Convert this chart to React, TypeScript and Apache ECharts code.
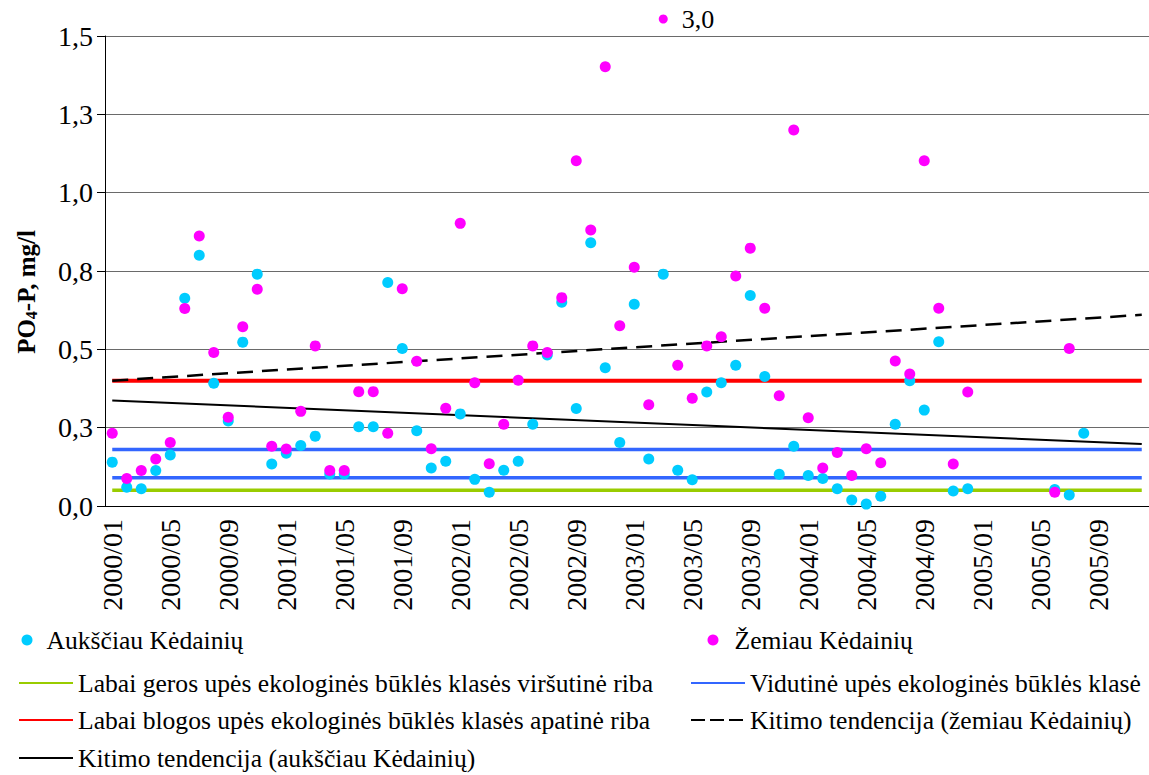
import React, { useEffect, useRef } from "react";
import * as echarts from "echarts";

const categories = [
  "2000/01","2000/02","2000/03","2000/04","2000/05","2000/06","2000/07","2000/08","2000/09","2000/10","2000/11","2000/12",
  "2001/01","2001/02","2001/03","2001/04","2001/05","2001/06","2001/07","2001/08","2001/09","2001/10","2001/11","2001/12",
  "2002/01","2002/02","2002/03","2002/04","2002/05","2002/06","2002/07","2002/08","2002/09","2002/10","2002/11","2002/12",
  "2003/01","2003/02","2003/03","2003/04","2003/05","2003/06","2003/07","2003/08","2003/09","2003/10","2003/11","2003/12",
  "2004/01","2004/02","2004/03","2004/04","2004/05","2004/06","2004/07","2004/08","2004/09","2004/10","2004/11","2004/12",
  "2005/01","2005/02","2005/03","2005/04","2005/05","2005/06","2005/07","2005/08","2005/09","2005/10","2005/11","2005/12",
];

// Aukščiau Kėdainių (upstream)
const above: (number | null)[] = [
  0.14, 0.06, 0.055, 0.113, 0.163, 0.663, 0.80, 0.392, 0.271, 0.523, 0.74, 0.134,
  0.168, 0.193, 0.223, 0.102, 0.102, 0.253, 0.253, 0.713, 0.503, 0.24, 0.121, 0.143,
  0.294, 0.085, 0.044, 0.114, 0.143, 0.261, 0.482, 0.65, 0.311, 0.84, 0.441, 0.203,
  0.644, 0.15, 0.74, 0.114, 0.084, 0.364, 0.393, 0.449, 0.672, 0.413, 0.101, 0.191,
  0.097, 0.088, 0.055, 0.019, 0.006, 0.031, 0.261, 0.40, 0.306, 0.524, 0.048, 0.055,
  null, null, null, null, null, 0.053, 0.035, 0.232, null, null, null, null,
];

// Žemiau Kėdainių (downstream)
const below: (number | null)[] = [
  0.232, 0.088, 0.113, 0.15, 0.203, 0.63, 0.862, 0.49, 0.283, 0.572, 0.692, 0.191,
  0.182, 0.302, 0.511, 0.113, 0.113, 0.365, 0.365, 0.232, 0.693, 0.462, 0.183, 0.312,
  0.902, 0.393, 0.135, 0.261, 0.401, 0.511, 0.49, 0.665, 1.102, 0.881, 1.402, 0.575,
  0.762, 0.323, 3.0, 0.449, 0.344, 0.511, 0.54, 0.734, 0.823, 0.631, 0.352, 1.20,
  0.282, 0.121, 0.171, 0.097, 0.183, 0.138, 0.463, 0.421, 1.102, 0.631, 0.134, 0.364,
  null, null, null, null, null, 0.044, 0.503, null, null, null, null, null,
];

const limitVeryGood = 0.05;
const limitModerate = [0.09, 0.18];
const limitVeryBad = 0.40;
const trendBelow = [0.40, 0.61]; // first & last category
const trendAbove = [0.337, 0.198];

const yTickLabels = ["0,0", "0,3", "0,5", "0,8", "1,0", "1,3", "1,5"];
const Y_MAX = 1.5;
const Y_STEP = 0.25;

const NAMES = {
  above: "Aukščiau Kėdainių",
  below: "Žemiau Kėdainių",
  good: "Labai geros upės ekologinės būklės klasės viršutinė riba",
  moderate: "Vidutinė upės ekologinės būklės klasė",
  bad: "Labai blogos upės ekologinės būklės klasės apatinė riba",
  trendBelow: "Kitimo tendencija (žemiau Kėdainių)",
  trendAbove: "Kitimo tendencija (aukščiau Kėdainių)",
};

const FONT = "Liberation Serif";

export default function App() {
  const ref = useRef<HTMLDivElement>(null);
  useEffect(() => {
    if (!ref.current) return;
    const chart = echarts.init(ref.current, null, { renderer: "svg" });
    const last = categories.length - 1;
    const hline = (v: number) => [[0, v], [last, v]];
    const belowMain = below.map((v) => (v != null && v > Y_MAX ? null : v));
    const outliers = below
      .map((v, i) => (v != null && v > Y_MAX ? [i, Y_MAX, v] : null))
      .filter((d) => d != null);
    const txt = { fontFamily: FONT, fontSize: 25.6, color: "#000" };
    const legendBase = {
      orient: "horizontal",
      padding: 0,
      itemGap: 0,
      selectedMode: false,
      textStyle: { ...txt },
    };
    const lineLegend = {
      ...legendBase,
      itemWidth: 54,
      itemHeight: 14,
      itemStyle: { opacity: 0 },
    };
    const dotLegend = {
      ...legendBase,
      itemWidth: 11,
      itemHeight: 11,
    };
    const option: any = {
      animation: false,
      backgroundColor: "#fff",
      textStyle: { fontFamily: FONT },
      grid: { left: 105, top: 36, width: 1049, height: 470, containLabel: false },
      xAxis: {
        type: "category",
        data: categories,
        boundaryGap: true,
        axisLine: { lineStyle: { color: "#000", width: 1 } },
        axisTick: { interval: 0, length: 7, lineStyle: { color: "#000" } },
        axisLabel: { interval: 3, rotate: 90, margin: 13, fontFamily: FONT, fontSize: 28, color: "#000" },
        splitLine: { show: false },
      },
      yAxis: {
        type: "value",
        min: 0,
        max: Y_MAX,
        interval: Y_STEP,
        axisLine: { show: true, lineStyle: { color: "#000", width: 1 } },
        axisTick: { show: true, length: 8, lineStyle: { color: "#000" } },
        axisLabel: {
          margin: 12,
          fontFamily: FONT,
          fontSize: 28,
          color: "#000",
          formatter: (v: number) => yTickLabels[Math.round(v / Y_STEP)],
        },
        splitLine: { lineStyle: { color: "#6a6a6a", width: 1 } },
      },
      legend: [
        { ...dotLegend, left: 21.5, top: 627, textStyle: { ...txt, padding: [0, 0, 0, 9] }, data: [{ name: NAMES.above, icon: "circle" }] },
        { ...dotLegend, left: 707.5, top: 627, textStyle: { ...txt, padding: [0, 0, 0, 11] }, data: [{ name: NAMES.below, icon: "circle" }] },
        { ...lineLegend, left: 18, top: 670, data: [NAMES.good] },
        { ...lineLegend, left: 690, top: 670, data: [NAMES.moderate] },
        { ...lineLegend, left: 18, top: 707, data: [NAMES.bad] },
        { ...lineLegend, left: 690, top: 707, lineStyle: { type: [14, 5] }, data: [NAMES.trendBelow] },
        { ...lineLegend, left: 18, top: 745, data: [NAMES.trendAbove] },
      ],
      graphic: [
        {
          type: "text",
          x: 26,
          y: 292,
          rotation: Math.PI / 2,
          style: {
            text: "{a|PO}{s|4}{a|-P, mg/l}",
            align: "center",
            verticalAlign: "middle",
            rich: {
              a: { fontFamily: FONT, fontSize: 25, fontWeight: "bold", fill: "#000" },
              s: { fontFamily: FONT, fontSize: 16, fontWeight: "bold", fill: "#000", padding: [10, 0, 0, 0] },
            },
          },
        },
      ],
      series: [
        {
          name: NAMES.good, type: "line", data: hline(limitVeryGood), symbol: "none",
          lineStyle: { color: "#99CC00", width: 3.5 }, itemStyle: { color: "#99CC00" }, z: 2,
        },
        {
          name: NAMES.moderate, type: "line", data: hline(limitModerate[0]), symbol: "none",
          lineStyle: { color: "#3366FF", width: 3.5 }, itemStyle: { color: "#3366FF" }, z: 2,
        },
        {
          name: NAMES.moderate, type: "line", data: hline(limitModerate[1]), symbol: "none",
          lineStyle: { color: "#3366FF", width: 3.5 }, itemStyle: { color: "#3366FF" }, z: 2,
        },
        {
          name: NAMES.bad, type: "line", data: hline(limitVeryBad), symbol: "none",
          lineStyle: { color: "#FF0000", width: 4 }, itemStyle: { color: "#FF0000" }, z: 2,
        },
        {
          name: NAMES.trendBelow, type: "line", data: [[0, trendBelow[0]], [last, trendBelow[1]]], symbol: "none",
          lineStyle: { color: "#000", width: 2.5, type: [16, 9] }, itemStyle: { color: "#000" }, z: 3,
        },
        {
          name: NAMES.trendAbove, type: "line", data: [[0, trendAbove[0]], [last, trendAbove[1]]], symbol: "none",
          lineStyle: { color: "#000", width: 2 }, itemStyle: { color: "#000" }, z: 3,
        },
        {
          name: NAMES.above, type: "scatter", data: above, symbol: "circle", symbolSize: 11,
          itemStyle: { color: "#00CCFF", opacity: 1 }, z: 5,
        },
        {
          name: NAMES.below, type: "scatter", data: belowMain, symbol: "circle", symbolSize: 11,
          itemStyle: { color: "#FF00FF", opacity: 1 }, z: 6,
        },
        {
          name: "outlier", type: "scatter", data: outliers, symbol: "circle", symbolSize: 9,
          symbolOffset: [0, -17], clip: false,
          itemStyle: { color: "#FF00FF", opacity: 1 }, z: 6,
          label: {
            show: true, position: "right", distance: 14, fontFamily: FONT, fontSize: 26, color: "#000",
            formatter: (p: any) => Number(p.value[2]).toFixed(1).replace(".", ","),
          },
        },
      ],
    };
    chart.setOption(option);
    return () => chart.dispose();
  }, []);
  return (
    <div
      ref={ref}
      style={{ position: "absolute", left: 0, top: 0, width: 1149, height: 775, background: "#fff" }}
    />
  );
}
